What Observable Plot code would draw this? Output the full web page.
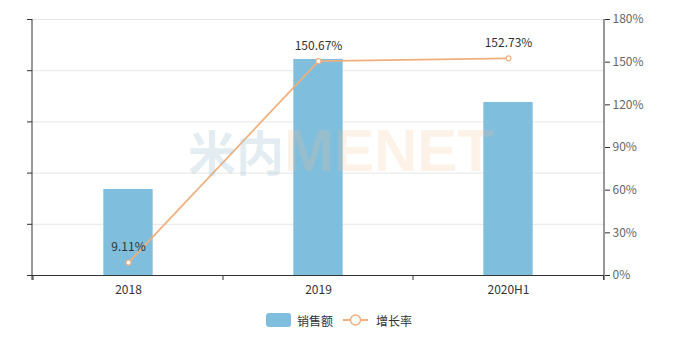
<!DOCTYPE html>
<html><head><meta charset="utf-8">
<script src="https://cdn.jsdelivr.net/npm/d3@7"></script>
<script src="https://cdn.jsdelivr.net/npm/@observablehq/plot@0.6"></script>
<style>
body{margin:0;background:#fff;font-family:"Noto Sans CJK SC","Noto Sans",sans-serif;}
#legend{display:flex;justify-content:center;align-items:center;height:40px;font-size:12px;color:#333;margin-left:4px}
#legend .item{display:flex;align-items:center;margin:0 5px}
</style></head>
<body>
<div id="chart"></div>
<div id="legend">
  <div class="item"><svg width="25" height="14"><rect width="25" height="14" rx="3" fill="#7fbedc"/></svg><span style="margin-left:6px">销售额</span></div>
  <div class="item"><svg width="25" height="14"><line x1="0" x2="25" y1="7" y2="7" stroke="#f0b07d" stroke-width="2"/><circle cx="12.5" cy="7" r="5" fill="#fff" stroke="#f0b07d" stroke-width="1.5"/></svg><span style="margin-left:8px">增长率</span></div>
</div>
<script>
const categories = ["2018", "2019", "2020H1"];
const sales = [33.6, 84.4, 67.6];          // left axis, unlabeled units
const growth = [9.11, 150.67, 152.73];     // percent
const growthTicks = [0, 30, 60, 90, 120, 150, 180];
const leftTicks = [0, 20, 40, 60, 80, 100];

const W = 674, mL = 32, mR = 70;
const band = (W - mL - mR) / categories.length;
const k = 100 / 180; // map percent onto the shared y scale

const barData = categories.map((c, i) => ({c, v: sales[i]}));
const lineData = categories.map((c, i) => ({c, g: growth[i], y: growth[i] * k}));

const fontFam = "'Noto Sans CJK SC','Noto Sans',sans-serif";

const plot = Plot.plot({
  width: W, height: 300,
  marginLeft: mL, marginRight: mR, marginTop: 19, marginBottom: 25,
  style: {fontFamily: fontFam, fontSize: "12px", color: "#666", background: "#fff"},
  x: {domain: categories, padding: 0, label: null},
  y: {domain: [0, 100], label: null},
  marks: [
    Plot.gridY(leftTicks.slice(1), {stroke: "#e6e6e6", strokeOpacity: 1}),
    Plot.barY(barData, {x: "c", y: "v", fill: "#7fbedc", insetLeft: (band - 50) / 2, insetRight: (band - 50) / 2}),
    Plot.line(lineData, {x: "c", y: "y", stroke: "#f0b07d", strokeWidth: 1.8}),
    Plot.dot(lineData, {x: "c", y: "y", r: 2.5, fill: "#fff", stroke: "#f0b07d", strokeWidth: 1.2}),
    Plot.text(lineData, {x: "c", y: "y", text: d => d.g.toFixed(2) + "%", dy: -15, fill: "#333", fontSize: 12}),
    // left axis (no labels)
    Plot.axisY(leftTicks, {anchor: "left", tickSize: 5, tickFormat: () => "", stroke: "#333", label: null}),
    // right axis (percent)
    Plot.axisY(growthTicks.map(v => v * k), {anchor: "right", tickSize: 5, tickPadding: 3, tickFormat: d => Math.round(d / k) + "%", fill: "#666", stroke: "#333", label: null}),
    Plot.ruleY([0], {stroke: "#333"}),
    // bottom axis labels at band centers
    Plot.axisX({tickSize: 0, tickPadding: 10, fill: "#333", label: null}),
  ]
});

const svg = d3.select(plot);
const xs = plot.scale("x");
const ys = plot.scale("y");
const y0 = ys.apply(0);
const yTop = ys.apply(100);

// watermark (semi-transparent, over the bars)
const wm = svg.append("text").attr("x", 188).attr("y", 171).attr("text-anchor", "start").attr("font-weight", "bold").attr("pointer-events", "none");
wm.append("tspan").attr("font-family", "'Noto Sans CJK SC'").attr("font-size", 48).attr("fill", "#9cc2d0").attr("fill-opacity", 0.28).text("米内");
wm.append("tspan").attr("font-family", "'Liberation Sans'").attr("font-size", 60).attr("fill", "#f6bf8d").attr("fill-opacity", 0.2).text("MENET");

// bottom tick marks at band boundaries
const bounds = categories.map(c => xs.apply(c)).concat([xs.apply(categories[categories.length-1]) + band]);
svg.append("g").attr("stroke", "#333").selectAll("line").data(bounds).join("line")
  .attr("x1", d => d).attr("x2", d => d).attr("y1", y0).attr("y2", y0 + 5);
// vertical axis lines
svg.append("line").attr("x1", mL).attr("x2", mL).attr("y1", yTop).attr("y2", y0 + 5).attr("stroke", "#333");
svg.append("line").attr("x1", W - mR).attr("x2", W - mR).attr("y1", yTop).attr("y2", y0 + 5).attr("stroke", "#333");

document.getElementById("chart").appendChild(plot);
</script>
</body></html>
